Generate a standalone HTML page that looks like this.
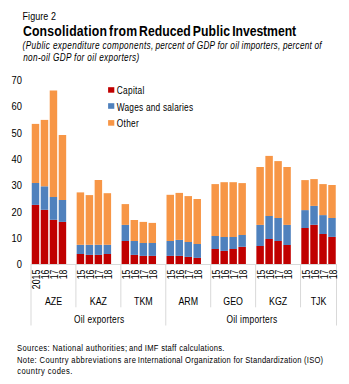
<!DOCTYPE html>
<html><head><meta charset="utf-8"><style>
html,body{margin:0;padding:0;background:#fff;}
body{width:349px;height:384px;overflow:hidden;position:relative;}
svg{position:absolute;left:0;top:0;}
text{font-family:"Liberation Sans",sans-serif;fill:#000;}
.gl,.yl{font-size:10.5px;} .tk{font-size:10px;}
</style></head><body>
<svg width="349" height="384" viewBox="0 0 349 384">
<text x="22" y="268.20" text-anchor="end" class="yl" textLength="5.2" lengthAdjust="spacingAndGlyphs">0</text><text x="22" y="241.91" text-anchor="end" class="yl" textLength="10.4" lengthAdjust="spacingAndGlyphs">10</text><text x="22" y="215.63" text-anchor="end" class="yl" textLength="10.4" lengthAdjust="spacingAndGlyphs">20</text><text x="22" y="189.34" text-anchor="end" class="yl" textLength="10.4" lengthAdjust="spacingAndGlyphs">30</text><text x="22" y="163.06" text-anchor="end" class="yl" textLength="10.4" lengthAdjust="spacingAndGlyphs">40</text><text x="22" y="136.77" text-anchor="end" class="yl" textLength="10.4" lengthAdjust="spacingAndGlyphs">50</text><text x="22" y="110.49" text-anchor="end" class="yl" textLength="10.4" lengthAdjust="spacingAndGlyphs">60</text><text x="22" y="84.20" text-anchor="end" class="yl" textLength="10.4" lengthAdjust="spacingAndGlyphs">70</text>
<g><rect x="31.00" y="204.90" width="8.985" height="59.10" fill="#C00000"/><rect x="31.00" y="183.00" width="8.985" height="21.90" fill="#4F81BD"/><rect x="31.00" y="123.90" width="8.985" height="59.10" fill="#F79646"/><rect x="39.98" y="209.80" width="8.985" height="54.20" fill="#C00000"/><rect x="39.98" y="186.30" width="8.985" height="23.50" fill="#4F81BD"/><rect x="39.98" y="119.90" width="8.985" height="66.40" fill="#F79646"/><rect x="48.97" y="219.80" width="8.985" height="44.20" fill="#C00000"/><rect x="48.97" y="197.00" width="8.985" height="22.80" fill="#4F81BD"/><rect x="48.97" y="90.50" width="8.985" height="106.50" fill="#F79646"/><rect x="57.95" y="221.90" width="8.985" height="42.10" fill="#C00000"/><rect x="57.95" y="200.00" width="8.985" height="21.90" fill="#4F81BD"/><rect x="57.95" y="135.00" width="8.985" height="65.00" fill="#F79646"/><rect x="75.92" y="254.00" width="8.985" height="10.00" fill="#C00000"/><rect x="75.92" y="244.80" width="8.985" height="9.20" fill="#4F81BD"/><rect x="75.92" y="192.40" width="8.985" height="52.40" fill="#F79646"/><rect x="84.91" y="254.90" width="8.985" height="9.10" fill="#C00000"/><rect x="84.91" y="244.80" width="8.985" height="10.10" fill="#4F81BD"/><rect x="84.91" y="195.10" width="8.985" height="49.70" fill="#F79646"/><rect x="93.89" y="254.90" width="8.985" height="9.10" fill="#C00000"/><rect x="93.89" y="244.80" width="8.985" height="10.10" fill="#4F81BD"/><rect x="93.89" y="180.00" width="8.985" height="64.80" fill="#F79646"/><rect x="102.88" y="254.00" width="8.985" height="10.00" fill="#C00000"/><rect x="102.88" y="244.80" width="8.985" height="9.20" fill="#4F81BD"/><rect x="102.88" y="193.20" width="8.985" height="51.60" fill="#F79646"/><rect x="120.85" y="241.00" width="8.985" height="23.00" fill="#C00000"/><rect x="120.85" y="224.90" width="8.985" height="16.10" fill="#4F81BD"/><rect x="120.85" y="204.10" width="8.985" height="20.80" fill="#F79646"/><rect x="129.83" y="254.90" width="8.985" height="9.10" fill="#C00000"/><rect x="129.83" y="241.00" width="8.985" height="13.90" fill="#4F81BD"/><rect x="129.83" y="220.00" width="8.985" height="21.00" fill="#F79646"/><rect x="138.82" y="255.90" width="8.985" height="8.10" fill="#C00000"/><rect x="138.82" y="243.00" width="8.985" height="12.90" fill="#4F81BD"/><rect x="138.82" y="221.90" width="8.985" height="21.10" fill="#F79646"/><rect x="147.81" y="255.90" width="8.985" height="8.10" fill="#C00000"/><rect x="147.81" y="243.00" width="8.985" height="12.90" fill="#4F81BD"/><rect x="147.81" y="222.90" width="8.985" height="20.10" fill="#F79646"/><rect x="165.77" y="255.90" width="8.985" height="8.10" fill="#C00000"/><rect x="165.77" y="241.00" width="8.985" height="14.90" fill="#4F81BD"/><rect x="165.77" y="194.80" width="8.985" height="46.20" fill="#F79646"/><rect x="174.76" y="255.90" width="8.985" height="8.10" fill="#C00000"/><rect x="174.76" y="239.90" width="8.985" height="16.00" fill="#4F81BD"/><rect x="174.76" y="192.90" width="8.985" height="47.00" fill="#F79646"/><rect x="183.75" y="256.90" width="8.985" height="7.10" fill="#C00000"/><rect x="183.75" y="242.00" width="8.985" height="14.90" fill="#4F81BD"/><rect x="183.75" y="196.10" width="8.985" height="45.90" fill="#F79646"/><rect x="192.73" y="257.90" width="8.985" height="6.10" fill="#C00000"/><rect x="192.73" y="244.00" width="8.985" height="13.90" fill="#4F81BD"/><rect x="192.73" y="199.00" width="8.985" height="45.00" fill="#F79646"/><rect x="210.70" y="249.00" width="8.985" height="15.00" fill="#C00000"/><rect x="210.70" y="236.00" width="8.985" height="13.00" fill="#4F81BD"/><rect x="210.70" y="184.10" width="8.985" height="51.90" fill="#F79646"/><rect x="219.69" y="250.90" width="8.985" height="13.10" fill="#C00000"/><rect x="219.69" y="237.00" width="8.985" height="13.90" fill="#4F81BD"/><rect x="219.69" y="182.20" width="8.985" height="54.80" fill="#F79646"/><rect x="228.67" y="249.00" width="8.985" height="15.00" fill="#C00000"/><rect x="228.67" y="237.00" width="8.985" height="12.00" fill="#4F81BD"/><rect x="228.67" y="182.20" width="8.985" height="54.80" fill="#F79646"/><rect x="237.65" y="246.80" width="8.985" height="17.20" fill="#C00000"/><rect x="237.65" y="235.00" width="8.985" height="11.80" fill="#4F81BD"/><rect x="237.65" y="183.10" width="8.985" height="51.90" fill="#F79646"/><rect x="255.62" y="246.00" width="8.985" height="18.00" fill="#C00000"/><rect x="255.62" y="224.90" width="8.985" height="21.10" fill="#4F81BD"/><rect x="255.62" y="167.00" width="8.985" height="57.90" fill="#F79646"/><rect x="264.61" y="239.00" width="8.985" height="25.00" fill="#C00000"/><rect x="264.61" y="216.00" width="8.985" height="23.00" fill="#4F81BD"/><rect x="264.61" y="155.90" width="8.985" height="60.10" fill="#F79646"/><rect x="273.59" y="241.00" width="8.985" height="23.00" fill="#C00000"/><rect x="273.59" y="218.00" width="8.985" height="23.00" fill="#4F81BD"/><rect x="273.59" y="161.10" width="8.985" height="56.90" fill="#F79646"/><rect x="282.58" y="245.00" width="8.985" height="19.00" fill="#C00000"/><rect x="282.58" y="224.90" width="8.985" height="20.10" fill="#4F81BD"/><rect x="282.58" y="167.00" width="8.985" height="57.90" fill="#F79646"/><rect x="300.55" y="228.00" width="8.985" height="36.00" fill="#C00000"/><rect x="300.55" y="210.10" width="8.985" height="17.90" fill="#4F81BD"/><rect x="300.55" y="180.10" width="8.985" height="30.00" fill="#F79646"/><rect x="309.53" y="224.80" width="8.985" height="39.20" fill="#C00000"/><rect x="309.53" y="205.90" width="8.985" height="18.90" fill="#4F81BD"/><rect x="309.53" y="179.10" width="8.985" height="26.80" fill="#F79646"/><rect x="318.52" y="234.00" width="8.985" height="30.00" fill="#C00000"/><rect x="318.52" y="215.10" width="8.985" height="18.90" fill="#4F81BD"/><rect x="318.52" y="184.10" width="8.985" height="31.00" fill="#F79646"/><rect x="327.50" y="236.90" width="8.985" height="27.10" fill="#C00000"/><rect x="327.50" y="218.00" width="8.985" height="18.90" fill="#4F81BD"/><rect x="327.50" y="185.00" width="8.985" height="33.00" fill="#F79646"/></g>
<g stroke="#ffffff" stroke-width="1.5" opacity="1"><line x1="31.00" y1="122.90" x2="31.00" y2="264" /><line x1="39.98" y1="118.90" x2="39.98" y2="264" /><line x1="48.97" y1="89.50" x2="48.97" y2="264" /><line x1="57.95" y1="89.50" x2="57.95" y2="264" /><line x1="66.94" y1="134.00" x2="66.94" y2="264" /><line x1="75.92" y1="191.40" x2="75.92" y2="264" /><line x1="84.91" y1="191.40" x2="84.91" y2="264" /><line x1="93.89" y1="179.00" x2="93.89" y2="264" /><line x1="102.88" y1="179.00" x2="102.88" y2="264" /><line x1="111.86" y1="192.20" x2="111.86" y2="264" /><line x1="120.85" y1="203.10" x2="120.85" y2="264" /><line x1="129.83" y1="203.10" x2="129.83" y2="264" /><line x1="138.82" y1="219.00" x2="138.82" y2="264" /><line x1="147.81" y1="220.90" x2="147.81" y2="264" /><line x1="156.79" y1="221.90" x2="156.79" y2="264" /><line x1="165.77" y1="193.80" x2="165.77" y2="264" /><line x1="174.76" y1="191.90" x2="174.76" y2="264" /><line x1="183.75" y1="191.90" x2="183.75" y2="264" /><line x1="192.73" y1="195.10" x2="192.73" y2="264" /><line x1="201.71" y1="198.00" x2="201.71" y2="264" /><line x1="210.70" y1="183.10" x2="210.70" y2="264" /><line x1="219.69" y1="181.20" x2="219.69" y2="264" /><line x1="228.67" y1="181.20" x2="228.67" y2="264" /><line x1="237.65" y1="181.20" x2="237.65" y2="264" /><line x1="246.64" y1="182.10" x2="246.64" y2="264" /><line x1="255.62" y1="166.00" x2="255.62" y2="264" /><line x1="264.61" y1="154.90" x2="264.61" y2="264" /><line x1="273.59" y1="154.90" x2="273.59" y2="264" /><line x1="282.58" y1="160.10" x2="282.58" y2="264" /><line x1="291.56" y1="166.00" x2="291.56" y2="264" /><line x1="300.55" y1="179.10" x2="300.55" y2="264" /><line x1="309.53" y1="178.10" x2="309.53" y2="264" /><line x1="318.52" y1="178.10" x2="318.52" y2="264" /><line x1="327.50" y1="183.10" x2="327.50" y2="264" /><line x1="336.49" y1="184.00" x2="336.49" y2="264" /></g>
<g stroke="#D9D9D9" stroke-width="1"><line x1="31.00" y1="264.5" x2="336.49" y2="264.5"/><line x1="31.00" y1="264.0" x2="31.00" y2="325.5"/><line x1="75.92" y1="264.0" x2="75.92" y2="307.3"/><line x1="120.85" y1="264.0" x2="120.85" y2="307.3"/><line x1="165.77" y1="264.0" x2="165.77" y2="325.5"/><line x1="210.70" y1="264.0" x2="210.70" y2="307.3"/><line x1="255.62" y1="264.0" x2="255.62" y2="307.3"/><line x1="300.55" y1="264.0" x2="300.55" y2="307.3"/><line x1="336.49" y1="264.0" x2="336.49" y2="325.5"/></g>
<text transform="translate(40.09,269.6) rotate(-90)" text-anchor="end" class="tk" textLength="19.6" lengthAdjust="spacingAndGlyphs">2015</text><text transform="translate(49.08,269.6) rotate(-90)" text-anchor="end" class="tk" textLength="9.6" lengthAdjust="spacingAndGlyphs">16</text><text transform="translate(58.06,269.6) rotate(-90)" text-anchor="end" class="tk" textLength="9.6" lengthAdjust="spacingAndGlyphs">17</text><text transform="translate(67.05,269.6) rotate(-90)" text-anchor="end" class="tk" textLength="9.6" lengthAdjust="spacingAndGlyphs">18</text><text transform="translate(85.02,269.6) rotate(-90)" text-anchor="end" class="tk" textLength="9.6" lengthAdjust="spacingAndGlyphs">15</text><text transform="translate(94.00,269.6) rotate(-90)" text-anchor="end" class="tk" textLength="9.6" lengthAdjust="spacingAndGlyphs">16</text><text transform="translate(102.99,269.6) rotate(-90)" text-anchor="end" class="tk" textLength="9.6" lengthAdjust="spacingAndGlyphs">17</text><text transform="translate(111.97,269.6) rotate(-90)" text-anchor="end" class="tk" textLength="9.6" lengthAdjust="spacingAndGlyphs">18</text><text transform="translate(129.94,269.6) rotate(-90)" text-anchor="end" class="tk" textLength="9.6" lengthAdjust="spacingAndGlyphs">15</text><text transform="translate(138.93,269.6) rotate(-90)" text-anchor="end" class="tk" textLength="9.6" lengthAdjust="spacingAndGlyphs">16</text><text transform="translate(147.91,269.6) rotate(-90)" text-anchor="end" class="tk" textLength="9.6" lengthAdjust="spacingAndGlyphs">17</text><text transform="translate(156.90,269.6) rotate(-90)" text-anchor="end" class="tk" textLength="9.6" lengthAdjust="spacingAndGlyphs">18</text><text transform="translate(174.87,269.6) rotate(-90)" text-anchor="end" class="tk" textLength="9.6" lengthAdjust="spacingAndGlyphs">15</text><text transform="translate(183.85,269.6) rotate(-90)" text-anchor="end" class="tk" textLength="9.6" lengthAdjust="spacingAndGlyphs">16</text><text transform="translate(192.84,269.6) rotate(-90)" text-anchor="end" class="tk" textLength="9.6" lengthAdjust="spacingAndGlyphs">17</text><text transform="translate(201.82,269.6) rotate(-90)" text-anchor="end" class="tk" textLength="9.6" lengthAdjust="spacingAndGlyphs">18</text><text transform="translate(219.79,269.6) rotate(-90)" text-anchor="end" class="tk" textLength="9.6" lengthAdjust="spacingAndGlyphs">15</text><text transform="translate(228.78,269.6) rotate(-90)" text-anchor="end" class="tk" textLength="9.6" lengthAdjust="spacingAndGlyphs">16</text><text transform="translate(237.76,269.6) rotate(-90)" text-anchor="end" class="tk" textLength="9.6" lengthAdjust="spacingAndGlyphs">17</text><text transform="translate(246.75,269.6) rotate(-90)" text-anchor="end" class="tk" textLength="9.6" lengthAdjust="spacingAndGlyphs">18</text><text transform="translate(264.72,269.6) rotate(-90)" text-anchor="end" class="tk" textLength="9.6" lengthAdjust="spacingAndGlyphs">15</text><text transform="translate(273.70,269.6) rotate(-90)" text-anchor="end" class="tk" textLength="9.6" lengthAdjust="spacingAndGlyphs">16</text><text transform="translate(282.69,269.6) rotate(-90)" text-anchor="end" class="tk" textLength="9.6" lengthAdjust="spacingAndGlyphs">17</text><text transform="translate(291.67,269.6) rotate(-90)" text-anchor="end" class="tk" textLength="9.6" lengthAdjust="spacingAndGlyphs">18</text><text transform="translate(309.64,269.6) rotate(-90)" text-anchor="end" class="tk" textLength="9.6" lengthAdjust="spacingAndGlyphs">15</text><text transform="translate(318.63,269.6) rotate(-90)" text-anchor="end" class="tk" textLength="9.6" lengthAdjust="spacingAndGlyphs">16</text><text transform="translate(327.61,269.6) rotate(-90)" text-anchor="end" class="tk" textLength="9.6" lengthAdjust="spacingAndGlyphs">17</text><text transform="translate(336.60,269.6) rotate(-90)" text-anchor="end" class="tk" textLength="9.6" lengthAdjust="spacingAndGlyphs">18</text>
<text x="53.46" y="305" text-anchor="middle" class="gl" textLength="17.15" lengthAdjust="spacingAndGlyphs">AZE</text><text x="98.39" y="305" text-anchor="middle" class="gl" textLength="17.15" lengthAdjust="spacingAndGlyphs">KAZ</text><text x="143.31" y="305" text-anchor="middle" class="gl" textLength="18.62" lengthAdjust="spacingAndGlyphs">TKM</text><text x="188.24" y="305" text-anchor="middle" class="gl" textLength="19.60" lengthAdjust="spacingAndGlyphs">ARM</text><text x="233.16" y="305" text-anchor="middle" class="gl" textLength="19.60" lengthAdjust="spacingAndGlyphs">GEO</text><text x="278.09" y="305" text-anchor="middle" class="gl" textLength="18.13" lengthAdjust="spacingAndGlyphs">KGZ</text><text x="318.52" y="305" text-anchor="middle" class="gl" textLength="15.68" lengthAdjust="spacingAndGlyphs">TJK</text>
<text transform="translate(22.518,19.8) scale(0.8,1)" font-size="11.2" textLength="41.827" lengthAdjust="spacing">Figure 2</text>
<text transform="translate(22.881,35.7) scale(0.8,1)" font-size="15.3" font-weight="bold" textLength="105.076" lengthAdjust="spacing">Consolidation</text>
<text transform="translate(109.002,35.7) scale(0.8,1)" font-size="15.3" font-weight="bold" textLength="35.147" lengthAdjust="spacing">from</text>
<text transform="translate(139.075,35.7) scale(0.8,1)" font-size="15.3" font-weight="bold" textLength="64.674" lengthAdjust="spacing">Reduced</text>
<text transform="translate(192.685,35.7) scale(0.8,1)" font-size="15.3" font-weight="bold" textLength="46.690" lengthAdjust="spacing">Public</text>
<text transform="translate(232.209,35.7) scale(0.8,1)" font-size="15.3" font-weight="bold" textLength="79.911" lengthAdjust="spacing">Investment</text>
<text transform="translate(22.564,49.0) scale(0.8,1)" font-size="10.3" font-style="italic" textLength="163.425" lengthAdjust="spacing">(Public expenditure components,</text>
<text transform="translate(155.420,49.0) scale(0.8,1)" font-size="10.3" font-style="italic" textLength="104.528" lengthAdjust="spacing">percent of GDP for oil</text>
<text transform="translate(241.580,49.0) scale(0.8,1)" font-size="10.3" font-style="italic" textLength="100.099" lengthAdjust="spacing">importers, percent of</text>
<text transform="translate(23.200,60.6) scale(0.8,1)" font-size="10.3" font-style="italic" textLength="145.086" lengthAdjust="spacing">non-oil GDP for oil exporters)</text>
<text transform="translate(17.056,350.8) scale(0.8,1)" font-size="9.5" textLength="137.482" lengthAdjust="spacing">Sources: National authorities;</text>
<text transform="translate(128.903,350.8) scale(0.8,1)" font-size="9.5" textLength="119.359" lengthAdjust="spacing">and IMF staff calculations.</text>
<text transform="translate(16.915,362.7) scale(0.8,1)" font-size="9.5" textLength="148.706" lengthAdjust="spacing">Note: Country abbreviations are</text>
<text transform="translate(137.855,362.7) scale(0.8,1)" font-size="9.5" textLength="231.611" lengthAdjust="spacing">International Organization for Standardization (ISO)</text>
<text transform="translate(17.141,373.9) scale(0.8,1)" font-size="9.5" textLength="69.091" lengthAdjust="spacing">country codes.</text>
<text transform="translate(73.953,322.9) scale(0.8,1)" font-size="10.5" textLength="62.688" lengthAdjust="spacing">Oil exporters</text>
<text transform="translate(226.448,322.9) scale(0.8,1)" font-size="10.5" textLength="63.470" lengthAdjust="spacing">Oil importers</text>
<text transform="translate(116.824,93.75) scale(0.8,1)" font-size="10.4" textLength="34.372" lengthAdjust="spacing">Capital</text>
<text transform="translate(116.791,110.9) scale(0.8,1)" font-size="10.4" textLength="95.316" lengthAdjust="spacing">Wages and salaries</text>
<text transform="translate(116.825,126.75) scale(0.8,1)" font-size="10.4" textLength="27.471" lengthAdjust="spacing">Other</text>
<rect x="108.1" y="87.2" width="6.2" height="5.5" fill="#C00000"/>
<rect x="108.1" y="103.2" width="6.2" height="5.6" fill="#4F81BD"/>
<rect x="108.1" y="120.1" width="6.2" height="5.6" fill="#F79646"/>
</svg>
</body></html>
